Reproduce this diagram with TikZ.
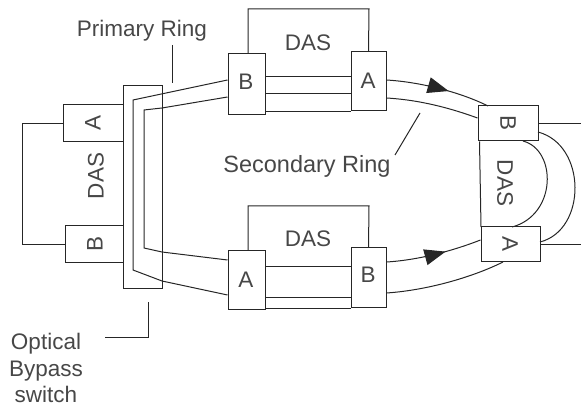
\documentclass[tikz,border=0pt]{standalone}
\usepackage{fontspec}
\setmainfont{Liberation Sans}
\usetikzlibrary{decorations.markings,arrows.meta}
\begin{document}
\begin{tikzpicture}[x=1pt,y=-1pt,line width=1pt,color=black!85,
  box/.style={draw,rectangle,inner sep=0pt,minimum width=#1},
  lbl/.style={text=black!72,font=\fontsize{22.5}{26}\selectfont,inner sep=0pt},
  midarrow/.style={postaction={decorate},decoration={markings,
     mark=at position #1 with {\arrow{Triangle[length=21pt,width=16pt]}}}}]
\useasboundingbox (0,0) rectangle (581,411);
% bypass switch
\node[box=39pt,minimum height=203pt] (sw) at (142.5,187.5) {};
% left DAS
\node[box=60pt,minimum height=37pt] (la) at (93,123.5) {};
\node[box=58pt,minimum height=37pt] (lb) at (94,244.5) {};
\node[lbl,rotate=90] at (93,123) {A};
\node[lbl,rotate=90] at (96,176) {DAS};
\node[lbl,rotate=90] at (95,244) {B};
\draw (la.west) -- (22,123.5) -- (22,244.5) -- (lb.west);
% top DAS
\node[box=37pt,minimum height=61pt] (tb) at (246.5,84.5) {};
\node[box=35pt,minimum height=59pt] (ta) at (368.5,81.5) {};
\node[lbl] at (246,82) {B};
\node[lbl] at (368,81) {A};
\node[lbl] at (308,43) {DAS};
\draw (248,54) -- (248,9) -- (369,9) -- (ta.north);
\draw (tb.east |- 0,77) -- (ta.west |- 0,77);
\draw (tb.east |- 0,94) -- (ta.west |- 0,94);
\draw (tb.east |- ta.south) -- (ta.south west);
% bottom DAS
\node[box=37pt,minimum height=59pt] (ba) at (246.5,280.5) {};
\node[box=35pt,minimum height=60pt] (bb) at (368.5,278) {};
\node[lbl] at (246,280) {A};
\node[lbl] at (368,275) {B};
\node[lbl] at (308,239) {DAS};
\draw (248,251) -- (248,206) -- (369,206) -- (bb.north);
\draw (ba.east |- 0,267) -- (bb.west |- 0,267);
\draw (ba.east |- 0,298) -- (bb.west |- 0,298);
\draw (ba.east |- bb.south) -- (bb.south west);
% right DAS
\node[box=60pt,minimum height=35pt] (rb) at (508,123.5) {};
\node[box=59pt,minimum height=35pt] (ra) at (510.5,244.5) {};
\node[lbl,rotate=-90] at (508,123) {B};
\node[lbl,rotate=-90] at (505,183) {DAS};
\node[lbl,rotate=-90] at (510,244) {A};
\draw (rb.south west) ++(2pt,0) -- (481,227);
\draw (rb.east) -- (581,123.5);
\draw (ra.east) -- (581,244.5);
\draw (523,141) .. controls (557,150) and (557,215) .. (512,227);
\draw (538,132) .. controls (587,145) and (587,230) .. (540,242);
% primary ring (outer)
\draw (tb.west |- 0,80) -- (133,100) -- (133,270) -- (162,281) -- (ba.west |- 0,295);
\draw[midarrow=0.6] (ta.east |- 0,80) .. controls (420,82) and (460,92) .. (488,106);
\draw (bb.east |- 0,293) .. controls (430,290) and (475,276) .. (503,262);
% secondary ring (inner)
\draw (tb.west |- 0,97) -- (162,108) -- (144,110) -- (144,248) -- (162,252) -- (ba.west |- 0,260);
\draw (ta.east |- 0,98) .. controls (420,100) and (450,108) .. (rb.west |- 0,118);
\draw[midarrow=0.62] (bb.east |- 0,262) .. controls (420,260) and (455,250) .. (ra.west |- 0,240);
% labels
\node[lbl] (prim) at (142,31) {Primary Ring};
\draw (172,45) -- (172,83);
\node[lbl,font=\fontsize{23.5}{26}\selectfont] (sec) at (307,166) {Secondary Ring};
\draw (420,113) -- (395,155);
\node[lbl,align=center,font=\fontsize{22.5}{26.5}\selectfont] (obs) at (46,368) {Optical\\Bypass\\switch};
\draw (105,338) -- (148,338) -- (148,302);
\end{tikzpicture}
\end{document}
